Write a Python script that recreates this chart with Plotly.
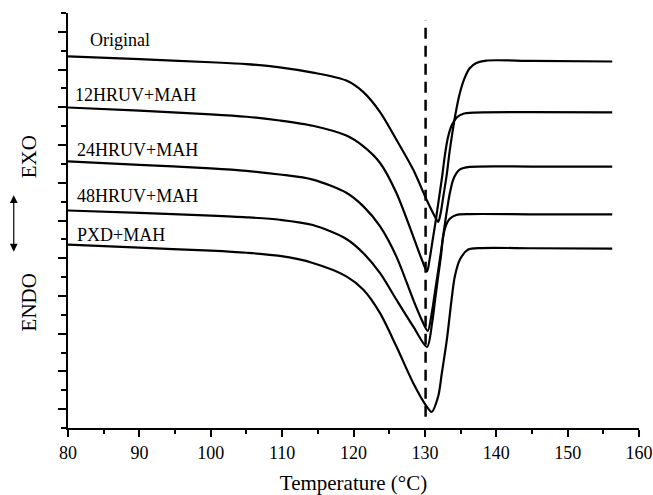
import plotly.graph_objects as go

# Temperature (°C) and heat-flow (arbitrary, offset) values
orig_t = [80, 90, 100, 105, 109.66, 114.3, 119.0, 121.35, 123.7, 126.0, 128.36, 130.24, 131.0, 131.5,
          131.87, 132.2, 132.6, 133.05, 133.45, 133.88, 134.3, 134.85, 135.55, 136.25, 137.2, 138.6, 145.0, 156.25]
orig_y = [18.70, 18.55, 18.39, 18.29, 18.12, 17.84, 17.42, 16.82, 15.76, 14.29, 12.70, 11.10, 10.50, 10.14,
          9.93, 10.37, 11.32, 12.39, 13.61, 14.72, 15.67, 16.68, 17.53, 18.06, 18.35, 18.48, 18.46, 18.43]

uv12_t = [80, 90, 100, 105, 109.66, 114.3, 119.0, 121.35, 123.7, 126.0, 128.36, 129.5, 130.3,
          130.7, 131.1, 131.5, 131.95, 132.4, 132.8, 133.2, 133.75, 134.5, 135.3, 137.0, 145.0, 156.25]
uv12_y = [15.99, 15.82, 15.63, 15.50, 15.30, 15.02, 14.50, 13.94, 13.06, 11.47, 9.16, 8.00, 7.30,
          8.03, 8.99, 9.94, 11.11, 12.28, 13.45, 14.35, 15.04, 15.47, 15.65, 15.72, 15.74, 15.73]

uv24_t = [80, 90, 100, 105, 109.66, 114.3, 119.0, 121.35, 123.7, 126.0, 128.36, 129.6, 130.4,
          131.0, 131.42, 131.84, 132.26, 132.68, 133.0, 133.46, 133.92, 134.4, 134.87, 136.27, 145.0, 156.25]
uv24_y = [13.13, 12.95, 12.76, 12.63, 12.44, 12.17, 11.47, 10.76, 9.70, 8.10, 5.81, 4.70, 4.15,
          5.17, 6.23, 7.29, 8.35, 9.49, 10.32, 11.38, 12.12, 12.50, 12.70, 12.84, 12.86, 12.86]

uv48_t = [80, 90, 100, 105, 109.66, 114.3, 119.0, 121.35, 123.7, 126.0, 128.36, 130.3,
          131.0, 131.42, 131.84, 132.26, 132.56, 133.0, 133.46, 134.4, 136.27, 145.0, 156.25]
uv48_y = [10.53, 10.40, 10.26, 10.17, 10.04, 9.76, 9.02, 8.28, 7.22, 5.81, 4.39, 3.30,
          4.53, 5.75, 6.97, 8.14, 9.15, 9.78, 10.08, 10.29, 10.34, 10.33, 10.32]

pxd_t = [80, 90, 100, 105, 109.66, 114.3, 119.0, 121.35, 123.7, 126.0, 128.36, 130.24, 130.94,
         131.87, 132.38, 133.08, 133.74, 134.2, 134.91, 136.07, 137.95, 145.0, 156.25]
pxd_y = [8.72, 8.56, 8.40, 8.29, 8.12, 7.75, 7.04, 6.34, 5.10, 3.33, 1.39, 0.15, -0.15,
         0.68, 1.92, 3.68, 5.81, 7.04, 7.93, 8.46, 8.54, 8.53, 8.51]

series_names = ["Original", "12HRUV+MAH", "24HRUV+MAH", "48HRUV+MAH", "PXD+MAH"]
series_t = [orig_t, uv12_t, uv24_t, uv48_t, pxd_t]
series_y = [orig_y, uv12_y, uv24_y, uv48_y, pxd_y]
label_t = [82.76, 80.66, 80.94, 80.94, 80.94]
label_y = [19.57, 16.66, 13.76, 11.32, 9.25]

dash_t = 130.1
dash_y = [-0.4, 20.6]

x_ticks = [80, 90, 100, 110, 120, 130, 140, 150, 160]

FONT = "Liberation Serif"

fig = go.Figure()
for name, t, y in zip(series_names, series_t, series_y):
    fig.add_trace(go.Scatter(x=t, y=y, mode="lines", name=name,
                             line=dict(color="black", width=2.2, shape="spline", smoothing=0.8),
                             showlegend=False))

fig.add_trace(go.Scatter(x=[dash_t, dash_t], y=dash_y, mode="lines",
                         line=dict(color="black", width=2.5, dash="11px,7px"), showlegend=False))

for name, lt, ly in zip(series_names, label_t, label_y):
    fig.add_annotation(x=lt, y=ly, xref="x", yref="y", text=name, showarrow=False,
                       xanchor="left", yanchor="middle",
                       font=dict(family=FONT, size=18, color="black"))

fig.add_annotation(x=-0.0688, y=0.654, xref="paper", yref="paper", text="EXO", textangle=-90,
                   showarrow=False, xanchor="center", yanchor="middle",
                   font=dict(family=FONT, size=21, color="black"))
fig.add_annotation(x=-0.0688, y=0.302, xref="paper", yref="paper", text="ENDO", textangle=-90,
                   showarrow=False, xanchor="center", yanchor="middle",
                   font=dict(family=FONT, size=21, color="black"))
fig.add_annotation(x=-0.095, y=0.425, xref="paper", yref="paper", text="", showarrow=True,
                   ax=0, ay=-58, arrowside="end+start", arrowhead=2, arrowsize=1.3,
                   arrowwidth=1.2, arrowcolor="black")

fig.update_layout(
    width=653, height=495, autosize=False,
    margin=dict(l=68, r=14, t=13, b=67, pad=0),
    paper_bgcolor="white", plot_bgcolor="white",
    font=dict(family=FONT, color="black"),
)
fig.update_xaxes(range=[80, 160], tickmode="array", tickvals=x_ticks, automargin=False,
                 ticks="outside", ticklen=7, tickwidth=2, tickcolor="black",
                 minor=dict(dtick=5, tick0=80, ticks="outside", ticklen=4, tickwidth=1.5, tickcolor="black"),
                 showline=True, linecolor="black", linewidth=2, showgrid=False, zeroline=False,
                 tickfont=dict(family=FONT, size=18, color="black"),
                 title=dict(text="Temperature (°C)", font=dict(family=FONT, size=21, color="black"),
                            standoff=14))
fig.update_yaxes(range=[-1, 21], tickmode="linear", tick0=0, dtick=2, automargin=False,
                 ticks="outside", ticklen=8, tickwidth=2, tickcolor="black", showticklabels=False,
                 minor=dict(dtick=1, tick0=0, ticks="outside", ticklen=5, tickwidth=1.5, tickcolor="black"),
                 showline=True, linecolor="black", linewidth=2, showgrid=False, zeroline=False)

fig.write_html("out.html")
